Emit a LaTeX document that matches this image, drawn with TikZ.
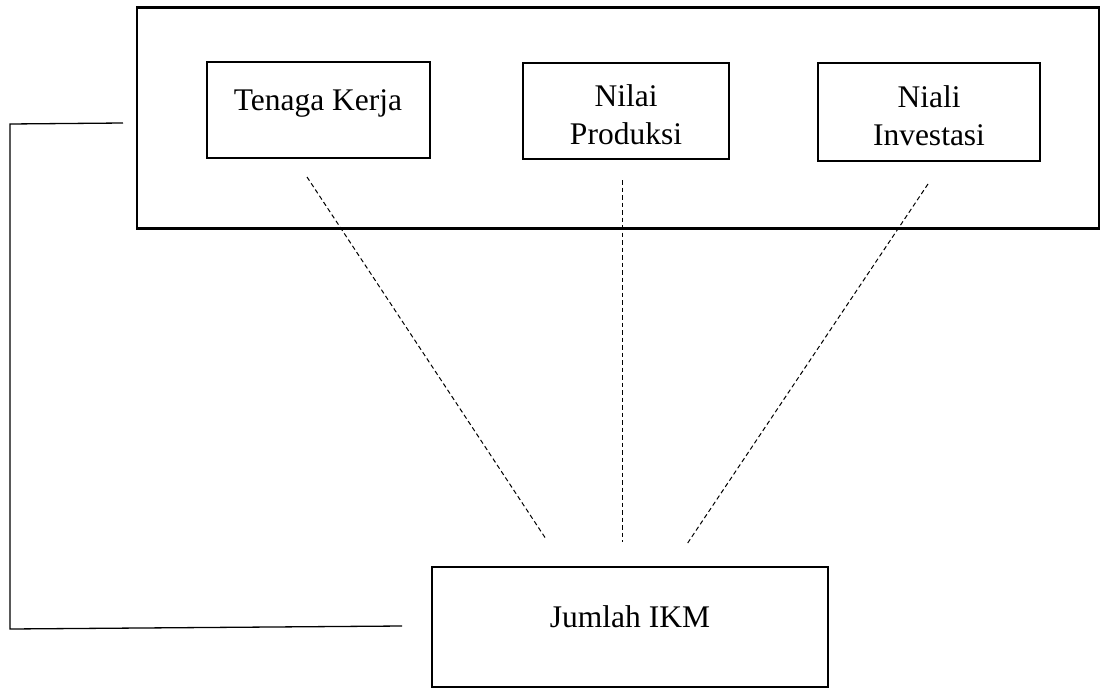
\documentclass[tikz,border=0pt]{standalone}
\usepackage{fontspec}
\setmainfont{Liberation Serif}
\begin{document}
\begin{tikzpicture}[x=1pt,y=-1pt,
  frame/.style={draw,line width=2.6pt,inner sep=0pt},
  box/.style={draw,line width=2.2pt,inner sep=0pt},
  lbl/.style={font=\fontsize{31.5}{38}\selectfont,align=center,inner sep=0pt},
  bracket/.style={line width=1.3pt},
  dashline/.style={dash pattern=on 4.5pt off 3pt,line width=1pt}]
\useasboundingbox (0,0) rectangle (1111,688);
% outer frame
\node[frame,minimum width=962pt,minimum height=221pt] (outer) at (618,118) {};
% boxes
\node[box,minimum width=223pt,minimum height=96pt] (tk) at (318.5,110) {};
\node[box,minimum width=206pt,minimum height=96pt] (np) at (626,111) {};
\node[box,minimum width=222pt,minimum height=98pt] (ni) at (929,112) {};
\node[box,minimum width=396pt,minimum height=120pt] (ikm) at (630,627) {};
% labels
\node[lbl,anchor=base] (tkt) at (318,110) {Tenaga Kerja};
\node[lbl] (npt) at (626,115) {Nilai\\Produksi};
\node[lbl] (nit) at (929,116) {Niali\\Investasi};
\node[lbl,anchor=base] (ikmt) at (630,627) {Jumlah IKM};
% bracket on the left
\coordinate (b1) at (123,123);
\coordinate (b2) at (10,124);
\coordinate (b3) at (10,629);
\coordinate (b4) at (402,626);
\draw[bracket] (b1) -- (b2) -- (b3) -- (b4);
% dashed connectors
\coordinate (d1a) at (307,177);
\coordinate (d1b) at (546,539);
\coordinate (d2a) at (622,180);
\coordinate (d2b) at (622,542);
\coordinate (d3a) at (928,184);
\coordinate (d3b) at (687,544);
\draw[dashline] (d1a) -- (d1b);
\draw[dashline] (d2a) -- (d2b);
\draw[dashline] (d3a) -- (d3b);
\end{tikzpicture}
\end{document}
